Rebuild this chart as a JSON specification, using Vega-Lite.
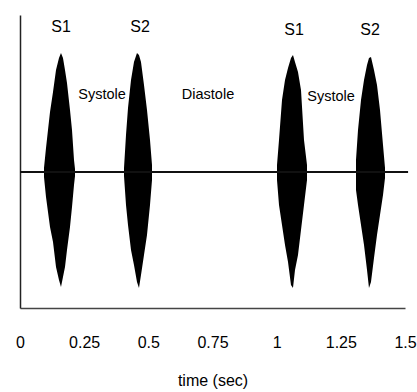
{
  "$schema": "https://vega.github.io/schema/vega-lite/v6.json",
  "width": 385,
  "height": 293,
  "autosize": {"type": "none"},
  "padding": {"left": 20, "top": 15, "right": 12, "bottom": 84},
  "background": "white",
  "config": {
    "view": {"stroke": null},
    "font": "'Liberation Sans', Arial, sans-serif"
  },
  "datasets": {
    "bursts": [
      {"burst": "S1a", "t": 0.0935, "hi": 0.04, "lo": -0.05},
      {"burst": "S1a", "t": 0.1013, "hi": 0.24, "lo": -0.25},
      {"burst": "S1a", "t": 0.1091, "hi": 0.42, "lo": -0.40},
      {"burst": "S1a", "t": 0.1169, "hi": 0.60, "lo": -0.55},
      {"burst": "S1a", "t": 0.1286, "hi": 0.80, "lo": -0.70},
      {"burst": "S1a", "t": 0.1403, "hi": 1.02, "lo": -0.95},
      {"burst": "S1a", "t": 0.1519, "hi": 1.14, "lo": -1.08},
      {"burst": "S1a", "t": 0.1597, "hi": 1.19, "lo": -1.15},
      {"burst": "S1a", "t": 0.1675, "hi": 1.14, "lo": -1.05},
      {"burst": "S1a", "t": 0.1753, "hi": 1.02, "lo": -0.95},
      {"burst": "S1a", "t": 0.1831, "hi": 0.89, "lo": -0.78},
      {"burst": "S1a", "t": 0.1948, "hi": 0.62, "lo": -0.55},
      {"burst": "S1a", "t": 0.2026, "hi": 0.42, "lo": -0.35},
      {"burst": "S1a", "t": 0.2104, "hi": 0.12, "lo": -0.13},
      {"burst": "S1a", "t": 0.2143, "hi": 0.03, "lo": -0.04},

      {"burst": "S2a", "t": 0.4052, "hi": 0.04, "lo": -0.04},
      {"burst": "S2a", "t": 0.4130, "hi": 0.37, "lo": -0.33},
      {"burst": "S2a", "t": 0.4208, "hi": 0.64, "lo": -0.53},
      {"burst": "S2a", "t": 0.4325, "hi": 0.92, "lo": -0.78},
      {"burst": "S2a", "t": 0.4441, "hi": 1.10, "lo": -0.93},
      {"burst": "S2a", "t": 0.4558, "hi": 1.19, "lo": -1.10},
      {"burst": "S2a", "t": 0.4636, "hi": 1.17, "lo": -1.16},
      {"burst": "S2a", "t": 0.4714, "hi": 1.10, "lo": -1.03},
      {"burst": "S2a", "t": 0.4831, "hi": 0.87, "lo": -0.83},
      {"burst": "S2a", "t": 0.4948, "hi": 0.62, "lo": -0.63},
      {"burst": "S2a", "t": 0.5065, "hi": 0.32, "lo": -0.33},
      {"burst": "S2a", "t": 0.5143, "hi": 0.07, "lo": -0.08},

      {"burst": "S1b", "t": 1.0013, "hi": 0.07, "lo": -0.08},
      {"burst": "S1b", "t": 1.0091, "hi": 0.32, "lo": -0.33},
      {"burst": "S1b", "t": 1.0208, "hi": 0.72, "lo": -0.53},
      {"burst": "S1b", "t": 1.0325, "hi": 0.92, "lo": -0.73},
      {"burst": "S1b", "t": 1.0442, "hi": 1.04, "lo": -0.90},
      {"burst": "S1b", "t": 1.0558, "hi": 1.14, "lo": -1.13},
      {"burst": "S1b", "t": 1.0636, "hi": 1.17, "lo": -1.16},
      {"burst": "S1b", "t": 1.0714, "hi": 1.10, "lo": -0.98},
      {"burst": "S1b", "t": 1.0831, "hi": 1.00, "lo": -0.83},
      {"burst": "S1b", "t": 1.0948, "hi": 0.82, "lo": -0.58},
      {"burst": "S1b", "t": 1.1065, "hi": 0.32, "lo": -0.33},
      {"burst": "S1b", "t": 1.1182, "hi": 0.07, "lo": -0.08},

      {"burst": "S2b", "t": 1.3091, "hi": 0.12, "lo": -0.18},
      {"burst": "S2b", "t": 1.3169, "hi": 0.42, "lo": -0.33},
      {"burst": "S2b", "t": 1.3286, "hi": 0.72, "lo": -0.53},
      {"burst": "S2b", "t": 1.3403, "hi": 0.92, "lo": -0.73},
      {"burst": "S2b", "t": 1.3520, "hi": 1.07, "lo": -0.98},
      {"burst": "S2b", "t": 1.3597, "hi": 1.14, "lo": -1.16},
      {"burst": "S2b", "t": 1.3675, "hi": 1.15, "lo": -1.10},
      {"burst": "S2b", "t": 1.3792, "hi": 1.02, "lo": -0.86},
      {"burst": "S2b", "t": 1.3909, "hi": 0.87, "lo": -0.63},
      {"burst": "S2b", "t": 1.4026, "hi": 0.62, "lo": -0.43},
      {"burst": "S2b", "t": 1.4143, "hi": 0.27, "lo": -0.23},
      {"burst": "S2b", "t": 1.4221, "hi": 0.04, "lo": -0.06}
    ],
    "baseline": [{"t": 0, "t2": 1.512, "amp": 0}],
    "labels": [
      {"label": "S1", "t": 0.160, "amp": 1.45},
      {"label": "S2", "t": 0.4675, "amp": 1.45},
      {"label": "S1", "t": 1.0675, "amp": 1.42},
      {"label": "S2", "t": 1.3636, "amp": 1.42}
    ],
    "phases": [
      {"label": "Systole", "t": 0.3195, "amp": 0.77},
      {"label": "Diastole", "t": 0.7325, "amp": 0.77},
      {"label": "Systole", "t": 1.2117, "amp": 0.75}
    ]
  },
  "encoding": {
    "x": {
      "field": "t",
      "type": "quantitative",
      "scale": {"domain": [0, 1.5], "nice": false, "zero": false},
      "axis": {
        "title": "time (sec)",
        "values": [0, 0.25, 0.5, 0.75, 1, 1.25, 1.5],
        "labelExpr": "toString(datum.value)",
        "grid": false,
        "ticks": false,
        "tickSize": 0,
        "labelPadding": 26,
        "labelFlush": false,
        "labelFontSize": 16,
        "labelColor": "black",
        "domainColor": "#444",
        "domainWidth": 1.5,
        "titleFontSize": 16,
        "titleFontWeight": "normal",
        "titleColor": "black",
        "titlePadding": 22
      }
    }
  },
  "layer": [
    {
      "data": {"name": "bursts"},
      "mark": {"type": "area", "color": "black", "interpolate": "linear"},
      "encoding": {
        "y": {
          "field": "hi",
          "type": "quantitative",
          "scale": {"domain": [-1.36, 1.57], "nice": false, "zero": false},
          "axis": {"title": null, "labels": false, "ticks": false, "grid": false, "domainColor": "#222", "domainWidth": 1.5}
        },
        "y2": {"field": "lo"},
        "detail": {"field": "burst"}
      }
    },
    {
      "data": {"name": "baseline"},
      "mark": {"type": "rule", "color": "#111", "strokeWidth": 2},
      "encoding": {
        "x2": {"field": "t2"},
        "y": {"field": "amp", "type": "quantitative"}
      }
    },
    {
      "data": {"name": "labels"},
      "mark": {"type": "text", "color": "black", "fontSize": 16, "align": "center", "baseline": "middle"},
      "encoding": {
        "y": {"field": "amp", "type": "quantitative"},
        "text": {"field": "label"}
      }
    },
    {
      "data": {"name": "phases"},
      "mark": {"type": "text", "color": "black", "fontSize": 14.5, "align": "center", "baseline": "middle"},
      "encoding": {
        "y": {"field": "amp", "type": "quantitative"},
        "text": {"field": "label"}
      }
    }
  ]
}
